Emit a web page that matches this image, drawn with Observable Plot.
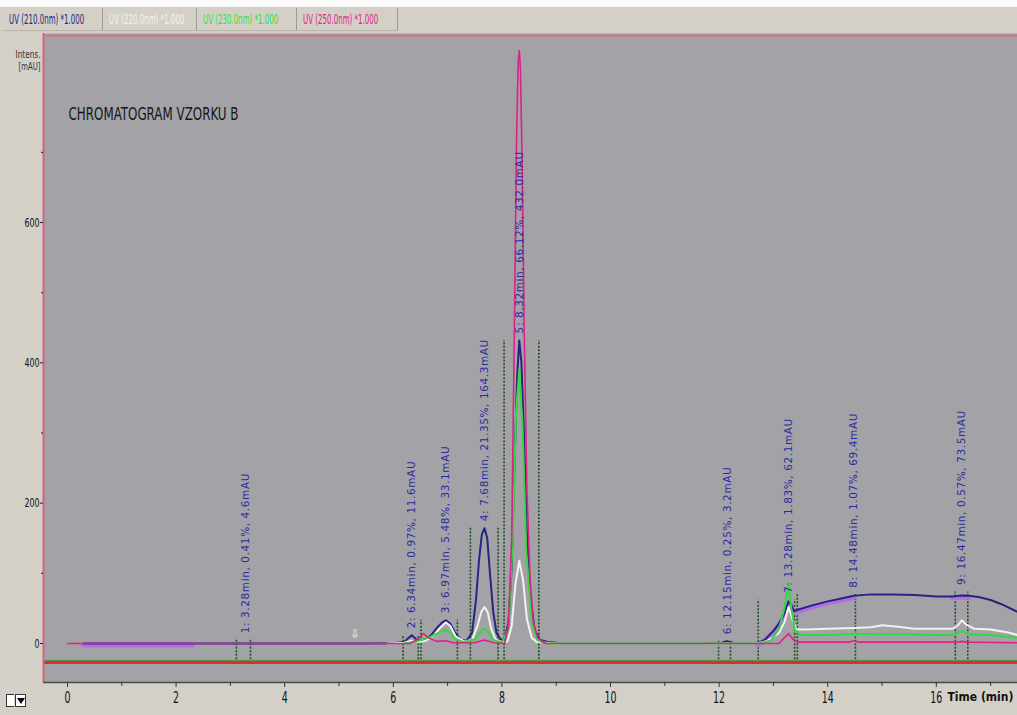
<!DOCTYPE html>
<html><head><meta charset="utf-8">
<script src="https://cdn.jsdelivr.net/npm/d3@7"></script>
<script src="https://cdn.jsdelivr.net/npm/@observablehq/plot@0.6"></script>
<style>
html,body{margin:0;padding:0;background:#d4d0c8;width:1017px;height:715px;overflow:hidden;position:relative;}
#legend{position:absolute;left:0;top:0;width:1017px;height:33px;background:#d4d0c8;}
#legend .strip{position:absolute;left:0;top:0;width:1017px;height:7px;background:#fbfbfb;}
#legend .cell{position:absolute;top:8px;height:23px;border-right:1px solid #9a9a9a;border-bottom:1px solid #b8b4ac;box-sizing:border-box;}
#legend .cell span{position:absolute;left:6px;top:3px;font:14px "Liberation Sans Narrow","DejaVu Sans Condensed",sans-serif;transform:scaleX(0.56);transform-origin:left top;white-space:nowrap;}
#chart{position:absolute;left:0;top:33px;}
#icon{position:absolute;left:6px;top:694px;}
#icon .a{position:absolute;left:0;top:0;width:7px;height:11px;background:#fff;border:1px solid #333;border-right:none;}
#icon .b{position:absolute;left:9px;top:0;width:9px;height:11px;background:#fff;border:1px solid #333;}
#icon .b:after{content:"";position:absolute;left:1px;top:3px;border-left:4px solid transparent;border-right:4px solid transparent;border-top:6px solid #000;}
g[aria-description="peak-labels"] text{letter-spacing:0.6px;}
</style>
</head><body>
<div id="legend"></div>
<div id="chart"></div>
<div id="icon"><div class="a"></div><div class="b"></div></div>
<script>
// ---- legend / channels ----
const channelNames = ["UV (210.0nm) *1.000", "UV (220.0nm) *1.000", "UV (230.0nm) *1.000", "UV (250.0nm) *1.000"];
const channelColors = ["#262680", "#f2f2f2", "#2ee23a", "#e0208a"];

// ---- UV 210 nm (navy) ----
const t210 = [0.3, 2.3, 5.3, 6.0, 6.2, 6.28, 6.34, 6.42, 6.5, 6.6, 6.7, 6.8, 6.9, 6.97, 7.05, 7.15, 7.25, 7.35, 7.45, 7.52, 7.58, 7.63, 7.68, 7.73, 7.78, 7.84, 7.9, 7.97, 8.05, 8.12, 8.18, 8.23, 8.28, 8.32, 8.36, 8.41, 8.46, 8.52, 8.6, 8.7, 8.85, 9.1, 9.6, 10.5, 11.5, 12.05, 12.12, 12.15, 12.2, 12.3, 12.71, 12.85, 13.0, 13.1, 13.2, 13.28, 13.33, 13.38, 13.45, 13.7, 14.0, 14.25, 14.48, 14.8, 15.2, 15.6, 16.0, 16.3, 16.47, 16.6, 16.8, 17.0, 17.2, 17.5];
const v210 = [0, 0, 0, 0.5, 2, 8, 11.6, 6, 4, 6, 12, 22, 30, 33.1, 28, 14, 5, 4, 15, 60, 120, 155, 164.3, 150, 100, 45, 15, 6, 5, 30, 110, 250, 380, 432, 400, 290, 160, 70, 20, 5, 2, 0.5, 0, 0, 0, 1, 3, 3.2, 2, 0, 0, 6, 18, 28, 42, 60, 55, 46, 48, 54, 60, 64, 68, 70, 70, 69, 67, 67, 68.5, 68, 66, 62, 56, 45];

// ---- UV 220 nm (white) ----
const t220 = [5.9, 6.2, 6.34, 6.45, 6.6, 6.75, 6.88, 6.97, 7.05, 7.15, 7.3, 7.45, 7.55, 7.62, 7.68, 7.74, 7.8, 7.88, 7.98, 8.1, 8.18, 8.25, 8.32, 8.39, 8.46, 8.55, 8.65, 8.8, 9.0, 12.7, 12.9, 13.1, 13.2, 13.28, 13.35, 13.42, 13.6, 14.0, 14.5, 14.8, 15.0, 15.3, 15.6, 16.0, 16.3, 16.4, 16.47, 16.55, 16.7, 17.0, 17.3, 17.5];
const v220 = [0, 1, 4, 2, 4, 12, 24, 30, 25, 10, 3, 5, 25, 45, 52, 44, 22, 6, 2, 3, 25, 85, 118, 90, 35, 8, 2, 1, 0, 0, 4, 15, 30, 52, 35, 20, 20, 21, 22, 23, 26, 24, 21, 21, 21, 26, 33, 27, 21, 20, 16, 12];

// ---- UV 230 nm (green) ----
const t230 = [6.2, 6.4, 6.55, 6.7, 6.85, 6.97, 7.05, 7.15, 7.3, 7.5, 7.6, 7.68, 7.76, 7.85, 8.0, 8.12, 8.2, 8.26, 8.32, 8.38, 8.45, 8.55, 8.65, 8.8, 12.7, 12.95, 13.1, 13.2, 13.28, 13.33, 13.4, 13.5, 14.0, 14.5, 15.0, 15.5, 16.0, 16.3, 16.47, 16.6, 17.0, 17.5];
const v230 = [0, 2, 6, 10, 16, 19, 15, 6, 2, 6, 16, 22, 15, 5, 1, 20, 150, 330, 390, 310, 130, 30, 5, 0, 0, 4, 20, 50, 85, 50, 18, 12, 12, 14, 13, 13, 12, 12, 18, 13, 12, 8];

// ---- UV 250 nm (magenta) ----
const t250 = [0, 6.3, 6.45, 6.55, 6.65, 6.8, 6.97, 7.1, 7.5, 7.68, 7.85, 8.05, 8.12, 8.18, 8.23, 8.27, 8.3, 8.32, 8.34, 8.37, 8.41, 8.46, 8.52, 8.58, 8.66, 8.8, 13.1, 13.2, 13.28, 13.36, 13.45, 14.4, 14.48, 14.56, 16.4, 16.47, 16.55, 17.5];
const v250 = [0, 0, 6, 14, 8, 3, 4, 1, 1, 5, 1, 0, 25, 150, 450, 720, 830, 845, 820, 700, 450, 220, 90, 30, 8, 0, 0, 8, 14, 6, 2, 2, 4, 2, 2, 3, 2, 1];

// ---- integrated peaks ----
const peakLabels = ["1: 3.28min, 0.41%, 4.6mAU", "2: 6.34min, 0.97%, 11.6mAU", "3: 6.97min, 5.48%, 33.1mAU", "4: 7.68min, 21.35%, 164.3mAU", "5: 8.32min, 66.12%, 432.0mAU", "6: 12.15min, 0.25%, 3.2mAU", "7: 13.28min, 1.83%, 62.1mAU", "8: 14.48min, 1.07%, 69.4mAU", "9: 16.47min, 0.57%, 73.5mAU"];
const peakTime = [3.28, 6.34, 6.97, 7.68, 8.32, 12.15, 13.28, 14.48, 16.47];
const peakHeight = [4.6, 11.6, 33.1, 164.3, 432.0, 3.2, 62.1, 69.4, 73.5];
const peakStart = [3.11, 6.18, 6.51, 7.42, 8.04, 11.99, 12.72, 13.44, 16.35];
const peakEnd = [3.37, 6.46, 7.18, 7.93, 8.68, 12.21, 13.39, 14.51, 16.58];
const integratedRanges = [[0.3, 2.3], [12.71, 14.49], [16.3, 16.6]];
const eventTime = [5.3];
const eventSymbol = ["⇩"];

// ---- axes ----
const xMajorTicks = [0, 2, 4, 6, 8, 10, 12, 14, 16];
const xMinorTicks = [1, 3, 5, 7, 9, 11, 13, 15, 17];
const yMajorTicks = [0, 200, 400, 600];
const yMinorTicks = [100, 300, 500, 700];
const xDomain = [-0.442, 17.495];
const yDomain = [-55.6, 869.4];
const detectorBaseline = -27;
const title = "CHROMATOGRAM VZORKU B";
const yLabel = ["Intens.", "[mAU]"];
const xLabel = "Time (min)";

// legend
const leg = document.getElementById("legend");
leg.innerHTML = '<div class="strip"></div>';
const cellX = [3, 103, 197, 297];
const cellW = [100, 94, 100, 101];
channelNames.forEach((n, i) => {
  const c = document.createElement("div");
  c.className = "cell";
  c.style.left = cellX[i] + "px";
  c.style.width = cellW[i] + "px";
  const s = document.createElement("span");
  s.textContent = n;
  s.style.color = channelColors[i];
  c.appendChild(s);
  leg.appendChild(c);
});

// build tables
const mk = (name, T, V) => T.map((t, i) => ({series: name, t, v: V[i]}));
const d210 = mk("210", t210, v210);
const d220 = mk("220", t220, v220);
const d230 = mk("230", t230, v230);
const d250 = mk("250", t250, v250);
const violet = integratedRanges.flatMap((r, k) => d210.filter(d => d.t >= r[0] && d.t <= r[1]).map(d => ({...d, seg: k})));
const peaks = peakTime.map((t, i) => ({t, h: peakHeight[i], label: peakLabels[i]}));
const markers = peakTime.flatMap((t, i) => [{t: peakStart[i], h: peakHeight[i]}, {t: peakEnd[i], h: peakHeight[i]}]);
const events = eventTime.map((t, i) => ({t, v: 0, s: eventSymbol[i]}));

const narrow = '"Liberation Sans Narrow","DejaVu Sans Condensed",sans-serif';

const chart = Plot.plot({
  width: 1017, height: 682,
  marginLeft: 43, marginRight: 0, marginTop: 0, marginBottom: 33,
  x: {domain: xDomain, axis: null},
  y: {domain: yDomain, axis: null},
  style: {background: "transparent", fontFamily: narrow, color: "#111"},
  marks: [
    Plot.frame({fill: "#a3a3a7", stroke: null}),
    Plot.ruleY([detectorBaseline], {stroke: "#e42a2a", strokeWidth: 3}),
    Plot.ruleY([detectorBaseline + 3], {stroke: "#3a9a3a", strokeWidth: 1}),
    Plot.ruleX(markers, {x: "t", y1: detectorBaseline + 4, y2: "h", stroke: "#244f24", strokeWidth: 1.6, strokeDasharray: "2,1.5"}),
    Plot.line(violet, {x: "t", y: "v", z: "seg", stroke: "#b46ee0", strokeWidth: 5, dy: 1.5}),
    Plot.line(d210, {x: "t", y: "v", stroke: channelColors[0], strokeWidth: 2}),
    Plot.line(d220, {x: "t", y: "v", stroke: channelColors[1], strokeWidth: 2}),
    Plot.line(d230, {x: "t", y: "v", stroke: "#33d93d", strokeWidth: 2}),
    Plot.line(d250, {x: "t", y: "v", stroke: channelColors[3], strokeWidth: 1.6}),
    Plot.text(events, {x: "t", y: "v", text: "s", dy: -9, fill: "#f4f4f4", fontSize: 12, fontFamily: "DejaVu Sans"}),
    Plot.text(peaks, {x: "t", y: "h", text: "label", rotate: -90, textAnchor: "start", dy: -7, fill: "#2a2aa0", fontSize: 10.5, fontFamily: "DejaVu Sans", ariaDescription: "peak-labels"}),
    // frame lines
    Plot.ruleX([xDomain[0]], {stroke: "#d8607c", strokeWidth: 2}),
    Plot.ruleY([yDomain[1]], {stroke: "#d07088", strokeWidth: 2, dy: 2}),
    Plot.ruleY([yDomain[0]], {stroke: "#4a4a4a", strokeWidth: 1.5}),
    // axes
    Plot.axisX(xMajorTicks, {label: null, tickSize: 5, tickPadding: 5, fontSize: 15, fontFamily: narrow, stroke: "#333", tickFormat: d => String(d), ariaDescription: "xticks"}),
    Plot.axisX(xMinorTicks, {label: null, tickSize: 4, text: null, stroke: "#333"}),
    Plot.axisY(yMajorTicks, {label: null, tickSize: 3, tickPadding: 1, fontSize: 13, fontFamily: narrow, stroke: "#222", tickFormat: d => String(d), ariaDescription: "yticks"}),
    Plot.axisY(yMinorTicks, {label: null, tickSize: 2, text: null, stroke: "#222"}),
    Plot.text([xLabel], {frameAnchor: "bottom-right", textAnchor: "start", dx: -70, dy: 18, fontSize: 12, fontWeight: "bold", fontFamily: narrow, fill: "#111"}),
    Plot.text([yLabel[0]], {frameAnchor: "top-left", textAnchor: "end", dx: -3, dy: 17, fontSize: 11, fontFamily: narrow, fill: "#333", ariaDescription: "ylabel1"}),
    Plot.text([yLabel[1]], {frameAnchor: "top-left", textAnchor: "end", dx: -3, dy: 29, fontSize: 11, fontFamily: narrow, fill: "#333", ariaDescription: "ylabel2"}),
    Plot.text([title], {frameAnchor: "top-left", textAnchor: "start", dx: 25, dy: 74, fontSize: 18, fontFamily: narrow, fill: "#151515", ariaDescription: "title"})
  ]
});
// condense text widths to match the narrow instrument font
const sel = (name) => d3.select(chart).selectAll(`g[aria-description="${name}"] text`);
sel("title").attr("textLength", 170).attr("lengthAdjust", "spacingAndGlyphs");
sel("ylabel1").attr("textLength", 25).attr("lengthAdjust", "spacingAndGlyphs");
sel("ylabel2").attr("textLength", 22).attr("lengthAdjust", "spacingAndGlyphs");
sel("xticks").each(function () { const n = this.textContent.length; d3.select(this).attr("textLength", 6 * n).attr("lengthAdjust", "spacingAndGlyphs"); });
sel("yticks").each(function () { const n = this.textContent.length; d3.select(this).attr("textLength", 5 * n).attr("lengthAdjust", "spacingAndGlyphs"); });
document.getElementById("chart").appendChild(chart);
</script>
</body></html>
